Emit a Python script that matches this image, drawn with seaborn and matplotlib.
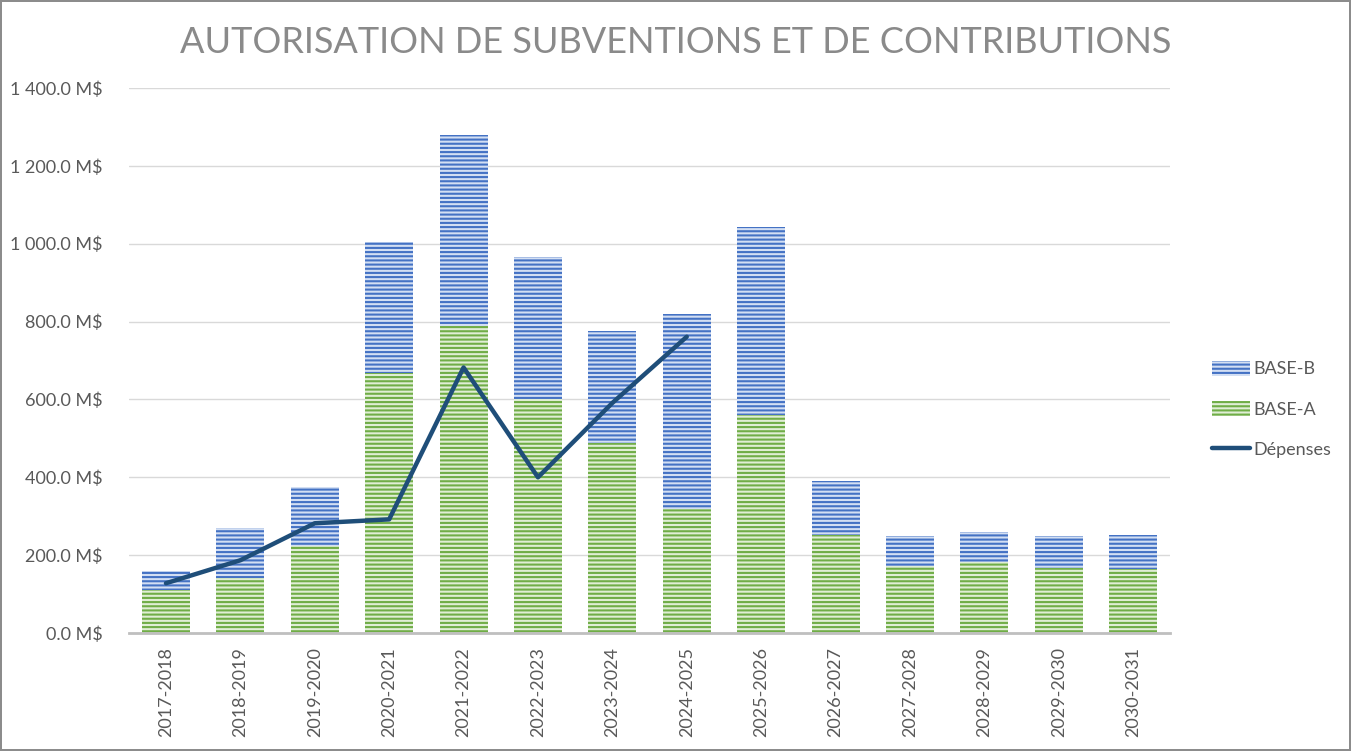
import numpy as np
import pandas as pd
import matplotlib
matplotlib.use("Agg")
import matplotlib.pyplot as plt
from matplotlib.patches import Patch
from matplotlib.lines import Line2D
import seaborn as sns

years = ["2017-2018", "2018-2019", "2019-2020", "2020-2021", "2021-2022",
         "2022-2023", "2023-2024", "2024-2025", "2025-2026", "2026-2027",
         "2027-2028", "2028-2029", "2029-2030", "2030-2031"]
base_a = [110, 141, 224, 669, 789, 600, 489, 318, 560, 253, 172, 182, 168, 164]
base_b = [49, 130, 150, 334, 490, 366, 287, 502, 482, 137, 77, 77, 81, 87]
depenses = [128, 187, 282, 292, 682, 400, 591, 761]
y_ticks = [0, 200, 400, 600, 800, 1000, 1200, 1400]

text_col = "#595959"
blue_line, blue_fill = "#4472C4", "#D3DFF3"
green_line, green_fill = "#70AD47", "#E0EED5"
dep_col = "#1F4E79"

sns.set_style("white")
plt.rcParams["font.family"] = ["Lato", "DejaVu Sans"]
plt.rcParams["hatch.linewidth"] = 1.5

df = pd.DataFrame({"year": years, "a": base_a, "b": base_b})
df["total"] = df["a"] + df["b"]
dep = pd.DataFrame({"pos": np.arange(len(depenses)), "val": depenses})

fig = plt.figure(figsize=(13.51, 7.51), dpi=100)
fig.patch.set_edgecolor("#8c8c8c")
fig.patch.set_linewidth(1.5)
ax = fig.add_axes([0.0953, 0.157, 0.771, 0.726])

# stacked bars: total (BASE-B) behind, BASE-A in front
sns.barplot(data=df, x="year", y="total", ax=ax, color=blue_fill,
            edgecolor=blue_line, linewidth=0, hatch="----", width=0.645,
            saturation=1, zorder=2)
sns.barplot(data=df, x="year", y="a", ax=ax, color=green_fill,
            edgecolor=green_line, linewidth=0, hatch="----", width=0.645,
            saturation=1, zorder=3)
sns.lineplot(data=dep, x="pos", y="val", ax=ax, color=dep_col, linewidth=3.2,
             zorder=4, solid_capstyle="round")

ax.set_xlim(-0.5, len(years) - 0.5)
ax.set_ylim(0, 1400)
ax.set_yticks(y_ticks)
ax.set_yticklabels([f"{v:,.1f} M$".replace(",", " ") for v in y_ticks])
ax.set_xticks(range(len(years)))
ax.set_xticklabels(years, rotation=90)
ax.tick_params(axis="y", length=0, pad=19, labelsize=13, labelcolor=text_col)
ax.tick_params(axis="x", length=0, pad=10, labelsize=13, labelcolor=text_col)
ax.set_xlabel("")
ax.set_ylabel("")
ax.grid(axis="y", color="#d9d9d9", linewidth=1)
ax.set_axisbelow(True)
for s in ["top", "right", "left"]:
    ax.spines[s].set_visible(False)
ax.spines["bottom"].set_color("#bfbfbf")
ax.spines["bottom"].set_linewidth(2)
ax.spines["bottom"].set_zorder(5)

fig.text(0.5, 0.944, "AUTORISATION DE SUBVENTIONS ET DE CONTRIBUTIONS",
         ha="center", va="center", fontsize=26, color="#8a8a8a")

handles = [
    Patch(facecolor=blue_fill, edgecolor=blue_line, hatch="----", linewidth=0),
    Patch(facecolor=green_fill, edgecolor=green_line, hatch="----", linewidth=0),
    Line2D([0], [0], color=dep_col, linewidth=3.2, solid_capstyle="round"),
]
fig.legend(handles, ["BASE-B", "BASE-A", "Dépenses"], loc="center left",
           bbox_to_anchor=(0.885, 0.455), frameon=False, fontsize=13,
           labelcolor=text_col, handlelength=2.1, handleheight=0.9,
           handletextpad=0.2, labelspacing=1.3)

fig.savefig("out.png", dpi=100)
